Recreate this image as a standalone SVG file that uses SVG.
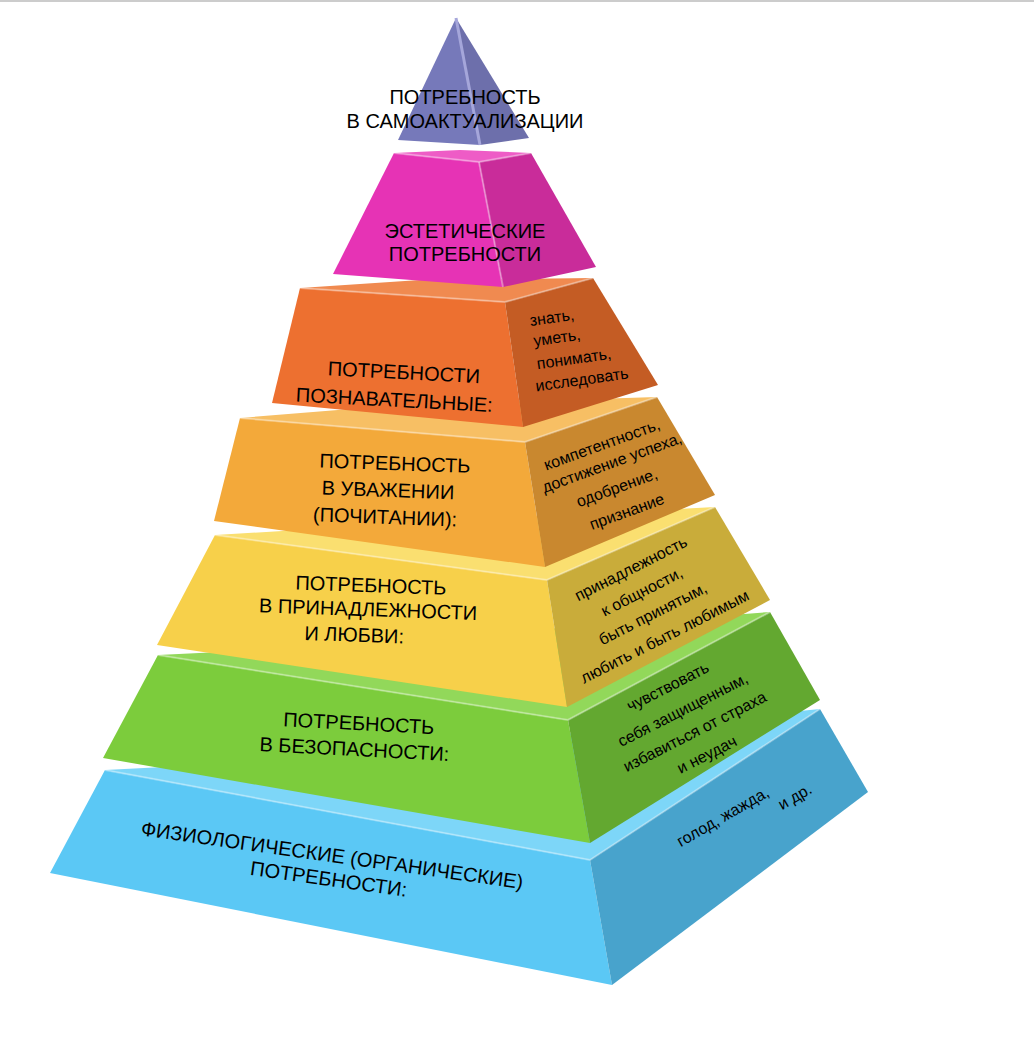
<svg xmlns="http://www.w3.org/2000/svg" width="1034" height="1048" viewBox="0 0 1034 1048">
<style>
.m{font-family:"Liberation Sans",Arial,sans-serif;font-size:20px;fill:#000;text-anchor:middle}
.s{font-family:"Liberation Sans Narrow","Liberation Sans",Arial,sans-serif;font-size:16px;fill:#000;text-anchor:middle}
.hl{fill:none;stroke:#fff;stroke-opacity:.35;stroke-width:2}
</style>
<rect width="1034" height="1048" fill="#fff"/>
<line x1="0" y1="1" x2="1034" y2="1" stroke="#ccc" stroke-width="2"/>
<g id="tier-physio">
<polygon points="105,770 300,760 820,709 590,860" fill="#7dd6f8"/>
<polygon points="105,770 590,860 612,985 50,873" fill="#5bc8f5"/>
<polygon points="590,860 820,709 868,792 612,985" fill="#48a3cc"/>
<polyline class="hl" points="105,770 590,860 820,709"/>
<g transform="rotate(8 330 870)"><text class="m" x="330" y="862">ФИЗИОЛОГИЧЕСКИЕ (ОРГАНИЧЕСКИЕ)</text><text class="m" x="330" y="886">ПОТРЕБНОСТИ:</text></g>
<text class="s" transform="rotate(-30 723 817)" x="723" y="822">голод, жажда,</text>
<text class="s" transform="rotate(-30 795 797)" x="795" y="802">и др.</text>
</g>
<g id="tier-safety">
<polygon points="158,655 300,648 770,612 568,720" fill="#92d85a"/>
<polygon points="158,655 568,720 590,843 103,758" fill="#7ccc3c"/>
<polygon points="568,720 770,612 820,700 590,843" fill="#63a830"/>
<polyline class="hl" points="158,655 568,720 770,612"/>
<g transform="rotate(3 355 738)"><text class="m" x="358" y="730">ПОТРЕБНОСТЬ</text><text class="m" x="355" y="756">В БЕЗОПАСНОСТИ:</text></g>
<g class="s">
<text class="s" transform="rotate(-27 668 687)" x="668" y="692">чувствовать</text>
<text class="s" transform="rotate(-27 683 710)" x="683" y="715">себя защищенным,</text>
<text class="s" transform="rotate(-27 695 732)" x="695" y="737">избавиться от страха</text>
<text class="s" transform="rotate(-27 707 755)" x="707" y="760">и неудач</text>
</g>
</g>
<g id="tier-love">
<polygon points="215,535 380,525 715,507 547,580" fill="#fadf70"/>
<polygon points="215,535 547,580 567,707 157,645" fill="#f7d04a"/>
<polygon points="547,580 715,507 770,600 567,707" fill="#c9ac3a"/>
<polyline class="hl" points="215,535 547,580 715,507"/>
<g transform="rotate(2 365 612)"><text class="m" x="370" y="592">ПОТРЕБНОСТЬ</text><text class="m" x="368" y="616">В ПРИНАДЛЕЖНОСТИ</text><text class="m" x="355" y="642">И ЛЮБВИ:</text></g>
<text class="s" transform="rotate(-27 631 569)" x="631" y="574">принадлежность</text>
<text class="s" transform="rotate(-27 642 592)" x="642" y="597">к общности,</text>
<text class="s" transform="rotate(-27 653 614)" x="653" y="619">быть принятым,</text>
<text class="s" transform="rotate(-27 665 637)" x="665" y="642">любить и быть любимым</text>
</g>
<g id="tier-esteem">
<polygon points="240,418 400,405 657,397 525,442" fill="#f7bf64"/>
<polygon points="240,418 525,442 545,567 214,521" fill="#f3a93a"/>
<polygon points="525,442 657,397 715,495 545,567" fill="#c9882f"/>
<polyline class="hl" points="240,418 525,442 657,397"/>
<g transform="rotate(2 390 490)"><text class="m" x="394" y="470">ПОТРЕБНОСТЬ</text><text class="m" x="388" y="497">В УВАЖЕНИИ</text><text class="m" x="386" y="524">(ПОЧИТАНИИ):</text></g>
<text class="s" transform="rotate(-20 602 445)" x="602" y="450">компетентность,</text>
<text class="s" transform="rotate(-20 612 463)" x="612" y="468">достижение успеха,</text>
<text class="s" transform="rotate(-20 617 488)" x="617" y="493">одобрение,</text>
<text class="s" transform="rotate(-20 627 512)" x="627" y="517">признание</text>
</g>
<g id="tier-cognitive">
<polygon points="300,288 420,280 593,278 505,302" fill="#f08a50"/>
<polygon points="300,288 505,302 523,427 272,403" fill="#ed7030"/>
<polygon points="505,302 593,278 658,385 523,427" fill="#c45c24"/>
<polyline class="hl" points="300,288 505,302 593,278"/>
<g transform="rotate(3 400 388)"><text class="m" x="403" y="379">ПОТРЕБНОСТИ</text><text class="m" x="395" y="407">ПОЗНАВАТЕЛЬНЫЕ:</text></g>
<text class="s" transform="rotate(-8 552 318)" x="552" y="323">знать,</text>
<text class="s" transform="rotate(-8 557 338)" x="557" y="343">уметь,</text>
<text class="s" transform="rotate(-8 574 359)" x="574" y="364">понимать,</text>
<text class="s" transform="rotate(-8 582 380)" x="582" y="385">исследовать</text>
</g>
<g id="tier-aesthetic">
<polygon points="394,153 460,150 531,153 479,162" fill="#ee5cc6"/>
<polygon points="394,153 479,162 503,287 333,274" fill="#e633b5"/>
<polygon points="479,162 531,153 596,267 503,287" fill="#c92c9a"/>
<polyline class="hl" points="394,153 479,162 531,153"/>
<polyline class="hl" points="479,162 503,287"/>
<text class="m" x="465" y="238">ЭСТЕТИЧЕСКИЕ</text><text class="m" x="465" y="261">ПОТРЕБНОСТИ</text>
</g>
<g id="tier-self">
<polygon points="456,18 398,140 480,145" fill="#7679ba"/>
<polygon points="456,18 480,145 529,138" fill="#6d6fab"/>
<line x1="456" y1="18" x2="480" y2="145" stroke="#a5a6da" stroke-width="3"/>
<text class="m" x="465" y="104">ПОТРЕБНОСТЬ</text><text class="m" x="465" y="128">В САМОАКТУАЛИЗАЦИИ</text>
</g>
</svg>
